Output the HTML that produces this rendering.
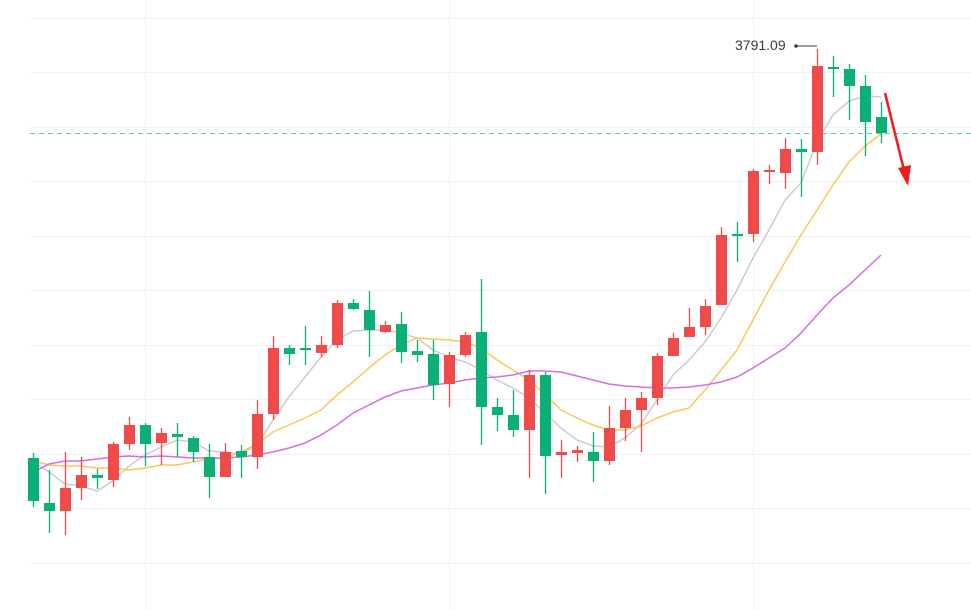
<!DOCTYPE html>
<html><head><meta charset="utf-8"><style>
html,body{margin:0;padding:0;background:#fff;width:971px;height:611px;overflow:hidden}
svg{display:block}
</style></head><body>
<svg id="c" width="971" height="611" xmlns="http://www.w3.org/2000/svg">
<g id="grid" stroke="#f0f0f0" stroke-width="1"></g>
<line x1="30" y1="133.5" x2="971" y2="133.5" stroke="#5cc9a7" stroke-width="1" stroke-dasharray="5,4"/>
<g id="ma"></g>
<g id="k"></g>
<text x="735" y="50" font-family="Liberation Sans, sans-serif" font-size="14" fill="#333d4a">3791.09</text>
<circle cx="796" cy="46" r="1.8" fill="#333d4a"/>
<line x1="796" y1="46" x2="817" y2="46" stroke="#333d4a" stroke-width="1"/>
<line x1="885" y1="93" x2="904" y2="170" stroke="#f21a1a" stroke-width="2.5"/>
<polygon points="898,168 911,165 908,186" fill="#f21a1a"/>
</svg>
<script>
var NS="http://www.w3.org/2000/svg";
function el(t,a,p){var e=document.createElementNS(NS,t);for(var k in a)e.setAttribute(k,a[k]);p.appendChild(e);return e;}
var g=document.getElementById('grid');
[18,72,127,181,236,290,345,399,454,508,563].forEach(function(y){el('line',{x1:30,x2:971,y1:y+.5,y2:y+.5},g)});
[145,449,753].forEach(function(x){el('line',{x1:x+.5,x2:x+.5,y1:0,y2:611},g)});
var C=[["g",458,501,453,507],["g",503,511,470,533],["r",488,511,452,535],["r",475,488,457,500],["g",475,478,469,489],["r",444,480,442,487],["r",425,444,417,450],["g",425,444,423,466],["r",433,443,428,465],["g",434,437,423,457],["g",438,452,436,462],["g",457,477,444,498],["r",452,477,443,477],["g",451,457,445,478],["r",414,457,400,469],["r",348,414,336,420],["g",348,354,345,365],["g",348,350,326,365],["r",345,353,336,357],["r",303,345,300,348],["g",303,309,299,310],["g",310,330,291,357],["r",325,332,321,333],["g",324,352,312,363],["g",351,355,340,362],["g",354,385,340,400],["r",355,384,352,407],["r",335,355,332,357],["g",332,407,279,445],["g",407,415,398,431],["g",415,430,390,437],["r",375,430,370,478],["g",375,456,372,494],["r",452,455,440,478],["r",450,453,446,462],["g",452,461,432,482],["r",428,461,406,465],["r",410,428,398,441],["r",398,410,392,452],["r",356,398,353,405],["r",338,356,333,356],["r",327,337,308,337],["r",306,327,299,335],["r",235,305,227,305],["g",234,236,222,262],["r",171,234,169,242],["r",170,172,165,184],["r",149,173,138,189],["g",149,152,139,197],["r",66,152,49,165],["g",67,69,56,97],["g",69,86,64,120],["g",86,122,75,156],["g",117,133,102,143]];
var k=document.getElementById('k');
C.forEach(function(c,i){var x=33+16*i,col=c[0]=="r"?"#ef4b4b":"#0bb077";
el('line',{x1:x+.5,x2:x+.5,y1:c[3],y2:c[4],stroke:col,'stroke-width':1.3},k);
el('rect',{x:x-5,y:c[1],width:11,height:Math.max(2,c[2]-c[1]),fill:col},k);});
var ys={ "#cccccc":[460,472,484,486,491,481,466,455,447,440,442,451,452,454,445,420,397,377,357,340,331,330,330,333,338,350,357,362,370,380,388,398,413,428,440,446,447,438,424,400,375,360,342,318,290,258,230,200,183,142,115,101,96,97],
"#fcc659":[460,465,466,466,468,468,470,468,465,465,462,459,458,452,444,432,425,418,410,395,382,368,355,345,338,339,340,342,348,360,370,380,394,410,418,425,430,430,426,418,412,408,390,370,350,320,290,262,235,210,185,162,146,134],
"#d46ee6":[474,464,461,461,459,457,456,457,456,457,458,458,458,457,455,452,448,443,435,425,413,405,397,391,388,385,383,380,378,377,375,371,371,372,376,380,384,386,387,388,388,387,385,382,377,368,358,348,333,315,298,285,270,255]};
var m=document.getElementById('ma');
for(var col in ys){var p=ys[col].map(function(y,i){return (i==0?30:33+16*i)+","+y}).join(" ");
el('polyline',{points:p,fill:"none",stroke:col,'stroke-width':1.5},m);}
</script>
</body></html>
